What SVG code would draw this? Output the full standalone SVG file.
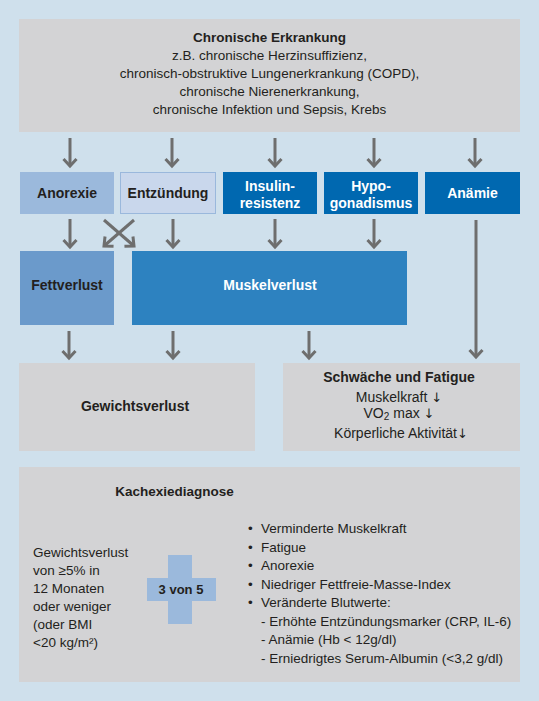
<svg xmlns="http://www.w3.org/2000/svg" width="539" height="701" viewBox="0 0 539 701">
<defs>
<style>
text{font-family:"Liberation Sans",Arial,sans-serif;fill:#231f20}
.t{font-size:13.5px}
.b{font-weight:bold}
.lab{font-size:14px;font-weight:bold;text-anchor:middle}
.w{fill:#ffffff}
.c{text-anchor:middle}
.s{font-size:14px}
.arw{font-family:"DejaVu Sans",sans-serif;font-size:13px}
.grey{fill:#d3d3d5}
.dark{fill:#0068b0}
.ar{stroke:#6e6e6e;stroke-width:3;fill:none}
</style>
<marker id="ah" markerUnits="userSpaceOnUse" viewBox="-10 -10 20 20" markerWidth="20" markerHeight="20" refX="0" refY="0" orient="auto" overflow="visible">
<path d="M-7,-6.5 L0,0 L-7,6.5" fill="none" stroke="#6e6e6e" stroke-width="3"/>
</marker>
</defs>
<rect width="539" height="701" fill="#cfe0ec"/>

<g id="chronische-erkrankung">
<rect class="grey" x="19" y="19" width="501" height="113"/>
<text class="b c" x="269.5" y="42" style="font-size:13.5px">Chronische Erkrankung</text>
<text class="t c" x="269.5" y="60">z.B. chronische Herzinsuffizienz,</text>
<text class="t c" x="269.5" y="78">chronisch-obstruktive Lungenerkrankung (COPD),</text>
<text class="t c" x="269.5" y="96">chronische Nierenerkrankung,</text>
<text class="t c" x="269.5" y="114">chronische Infektion und Sepsis, Krebs</text>
</g>

<g id="anorexie">
<rect x="20" y="172" width="94" height="42" fill="#9bb9dc"/>
<text class="lab" x="67" y="198">Anorexie</text>
</g>
<g id="entzuendung">
<rect x="120.5" y="172.5" width="95" height="41" fill="#c9d7ec" stroke="#9ab8dc" stroke-width="1"/>
<text class="lab" x="168" y="198">Entzündung</text>
</g>
<g id="insulinresistenz">
<rect class="dark" x="223" y="172" width="94" height="42"/>
<text class="lab w" x="270" y="191">Insulin-</text>
<text class="lab w" x="270" y="208">resistenz</text>
</g>
<g id="hypogonadismus">
<rect class="dark" x="324" y="172" width="94" height="42"/>
<text class="lab w" x="371" y="191">Hypo-</text>
<text class="lab w" x="371" y="208">gonadismus</text>
</g>
<g id="anaemie">
<rect class="dark" x="425" y="172" width="95" height="42"/>
<text class="lab w" x="472.5" y="198">Anämie</text>
</g>

<g id="fettverlust">
<rect x="20" y="251" width="94" height="74" fill="#6b9acb"/>
<text class="lab" x="67" y="290">Fettverlust</text>
</g>
<g id="muskelverlust">
<rect x="132" y="251" width="275" height="74" fill="#2d82c0"/>
<text class="lab w" x="270" y="290">Muskelverlust</text>
</g>

<g id="gewichtsverlust">
<rect class="grey" x="19" y="363" width="236" height="88"/>
<text class="lab" x="135" y="411">Gewichtsverlust</text>
</g>
<g id="schwaeche-fatigue">
<rect class="grey" x="283" y="363" width="237" height="88"/>
<text class="lab" x="399" y="382">Schwäche und Fatigue</text>
<text class="s c" x="399" y="402">Muskelkraft <tspan class="arw">↓</tspan></text>
<text class="s c" x="399" y="418">VO<tspan font-size="10" dy="2">2</tspan><tspan dy="-2"> max </tspan><tspan class="arw">↓</tspan></text>
<text class="s c" x="401" y="438">Körperliche Aktivität<tspan class="arw">↓</tspan></text>
</g>

<g id="kachexiediagnose">
<rect class="grey" x="19" y="467" width="501" height="215"/>
<text class="b" x="174.5" y="496" style="font-size:13.5px;text-anchor:middle">Kachexiediagnose</text>
<text class="t" x="33" y="557">Gewichtsverlust</text>
<text class="t" x="33" y="575">von ≥5% in</text>
<text class="t" x="33" y="593">12 Monaten</text>
<text class="t" x="33" y="611">oder weniger</text>
<text class="t" x="33" y="629">(oder BMI</text>
<text class="t" x="33" y="647">&lt;20 kg/m²)</text>
<path d="M168,555 H192 V578 H216 V601 H192 V624 H168 V601 H147 V578 H168 Z" fill="#9bb9dc"/>
<text class="b c" x="181" y="594" style="font-size:13px">3 von 5</text>
<text class="t" x="248" y="533">•</text>
<text class="t" x="261" y="533">Verminderte Muskelkraft</text>
<text class="t" x="248" y="551.5">•</text>
<text class="t" x="261" y="551.5">Fatigue</text>
<text class="t" x="248" y="570">•</text>
<text class="t" x="261" y="570">Anorexie</text>
<text class="t" x="248" y="588.5">•</text>
<text class="t" x="261" y="588.5">Niedriger Fettfreie-Masse-Index</text>
<text class="t" x="248" y="607">•</text>
<text class="t" x="261" y="607">Veränderte Blutwerte:</text>
<text class="t" x="261" y="625.5">- Erhöhte Entzündungsmarker (CRP, IL-6)</text>
<text class="t" x="261" y="644">- Anämie (Hb &lt; 12g/dl)</text>
<text class="t" x="261" y="662.5">- Erniedrigtes Serum-Albumin (&lt;3,2 g/dl)</text>
</g>

<g id="connectors" class="ar" marker-end="url(#ah)">
<path d="M70,138 V166"/>
<path d="M172,138 V166"/>
<path d="M275,138 V166"/>
<path d="M374,138 V166"/>
<path d="M475,138 V166"/>
<path d="M70,219 V247"/>
<path d="M173,219 V247"/>
<path d="M275,219 V247"/>
<path d="M374,219 V247"/>
<path d="M104,220 L134,246"/>
<path d="M134,220 L104,246"/>
<path d="M476,220 V357"/>
<path d="M69,331 V358"/>
<path d="M173,331 V358"/>
<path d="M309,331 V358"/>
</g>
</svg>
